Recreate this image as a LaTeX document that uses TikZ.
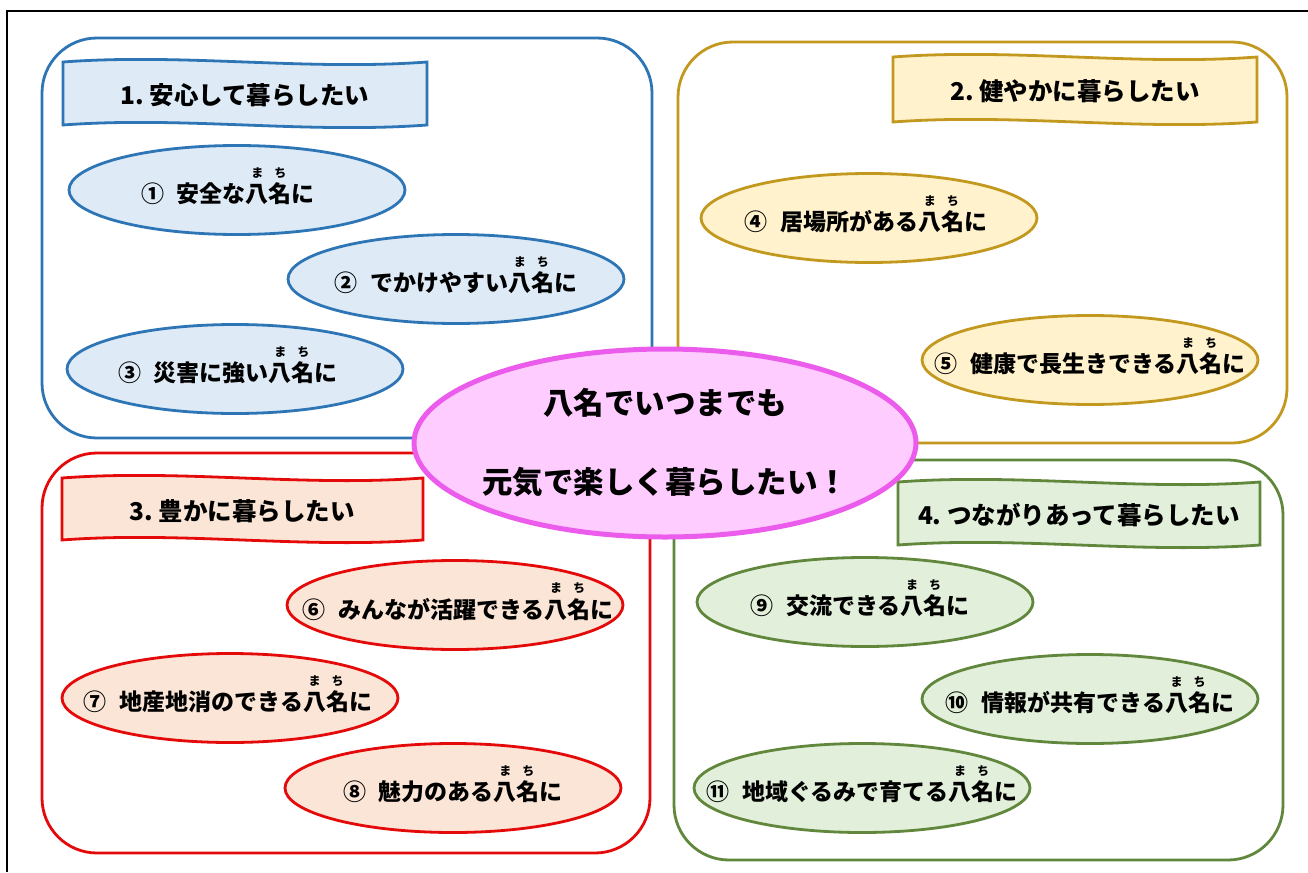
\documentclass[tikz,border=0pt]{standalone}
\usepackage{fontspec}
\setmainfont{Noto Sans CJK JP}[BoldFont={Noto Sans CJK JP Black}]
\usetikzlibrary{shapes.geometric}
\definecolor{blueD}{RGB}{46,117,182}
\definecolor{blueL}{RGB}{222,235,247}
\definecolor{goldD}{RGB}{194,153,30}
\definecolor{goldL}{RGB}{255,242,204}
\definecolor{redD}{RGB}{228,10,10}
\definecolor{redL}{RGB}{251,229,214}
\definecolor{greenD}{RGB}{96,135,60}
\definecolor{greenL}{RGB}{226,239,218}
\definecolor{pinkD}{RGB}{236,92,236}
\definecolor{pinkL}{RGB}{255,204,255}
\newcommand\furi[2]{\leavevmode\setbox0\hbox{#1}\rlap{\raisebox{1.12em}[0pt][0pt]{\makebox[\wd0][c]{\fontsize{12}{12}\selectfont #2}}}#1}
\newcommand\yana{\furi{八}{ま}\furi{名}{ち}}
\begin{document}
\begin{tikzpicture}[x=1pt,y=-1pt,
 quad/.style={line width=2.8pt,rounded corners=55pt},
 ell/.style={ellipse,draw=#1D,fill=#1L,line width=2.8pt,inner sep=0pt,minimum width=336pt,minimum height=89pt},
 banner/.style={draw=#1D,fill=#1L,line width=2.8pt},
 txt/.style={font=\bfseries\fontsize{23}{24}\selectfont,inner sep=0pt},
 ttl/.style={font=\bfseries\fontsize{24.5}{26}\selectfont,inner sep=0pt},
]
\useasboundingbox (0,0) rectangle (1308,872);
\fill[white] (0,0) rectangle (1308,872);
\draw[line width=2pt] (7,872) -- (7,11.5) -- (1308,11.5);
% quadrants
\draw[quad,draw=blueD] (42,38) rectangle (652,438);
\draw[quad,draw=goldD] (678,42) rectangle (1287,443);
\draw[quad,draw=redD] (42,453) rectangle (650,853);
\draw[quad,draw=greenD] (674,460) rectangle (1283,860);
% banners
\filldraw[banner=blue] (63,62) .. controls (184,53) and (306,71) .. (427,62) -- (427,125) .. controls (306,134) and (184,116) .. (63,125) -- cycle;
\filldraw[banner=gold] (893,57) .. controls (1014,48) and (1136,66) .. (1257,57) -- (1257,122) .. controls (1136,131) and (1014,113) .. (893,122) -- cycle;
\filldraw[banner=red] (62,478) .. controls (182,469) and (303,487) .. (423,478) -- (423,540) .. controls (303,549) and (182,531) .. (62,540) -- cycle;
\filldraw[banner=green] (898,482) .. controls (1019,473) and (1139,491) .. (1260,482) -- (1260,545) .. controls (1139,554) and (1019,536) .. (898,545) -- cycle;
\node[ttl] (h1) at (245,95) {1.\ 安心して暮らしたい};
\node[ttl] (h2) at (1075,91) {2.\ 健やかに暮らしたい};
\node[ttl] (h3) at (242,511) {3.\ 豊かに暮らしたい};
\node[ttl] (h4) at (1079,515) {4.\ つながりあって暮らしたい};
% ellipses
\node[ell=blue] (e1) at (237,190) {};
\node[ell=blue] (e2) at (456,279) {};
\node[ell=blue] (e3) at (235,369) {};
\node[ell=gold] (e4) at (869,218) {};
\node[ell=gold] (e5) at (1090,360) {};
\node[ell=red] (e6) at (455,605) {};
\node[ell=red] (e7) at (230,698) {};
\node[ell=red] (e8) at (453,788) {};
\node[ell=green] (e9) at (865,602) {};
\node[ell=green] (e10) at (1090,699) {};
\node[ell=green] (e11) at (862,788) {};
\node[txt] (t1) at (228,194) {①\hspace{.55em}安全な\yana に};
\node[txt] (t2) at (456,283) {②\hspace{.55em}でかけやすい\yana に};
\node[txt] (t3) at (228,373) {③\hspace{.55em}災害に強い\yana に};
\node[txt] (t4) at (866,222) {④\hspace{.55em}居場所がある\yana に};
\node[txt] (t5) at (1090,364) {⑤\hspace{.55em}健康で長生きできる\yana に};
\node[txt] (t6) at (458,609) {⑥\hspace{.55em}みんなが活躍できる\yana に};
\node[txt] (t7) at (228,702) {⑦\hspace{.55em}地産地消のできる\yana に};
\node[txt] (t8) at (453,792) {⑧\hspace{.55em}魅力のある\yana に};
\node[txt] (t9) at (860,606) {⑨\hspace{.55em}交流できる\yana に};
\node[txt] (t10) at (1090,703) {⑩\hspace{.55em}情報が共有できる\yana に};
\node[txt] (t11) at (862,792) {⑪\hspace{.55em}地域ぐるみで育てる\yana に};
% center
\node[ellipse,draw=pinkD,fill=pinkL,line width=5pt,inner sep=0pt,minimum width=502pt,minimum height=188pt] (c) at (665,443) {};
\node[font=\bfseries\fontsize{30.5}{79}\selectfont,align=center,inner sep=0pt] (ct) at (c.center) {八名でいつまでも\\元気で楽しく暮らしたい！};
\end{tikzpicture}
\end{document}
